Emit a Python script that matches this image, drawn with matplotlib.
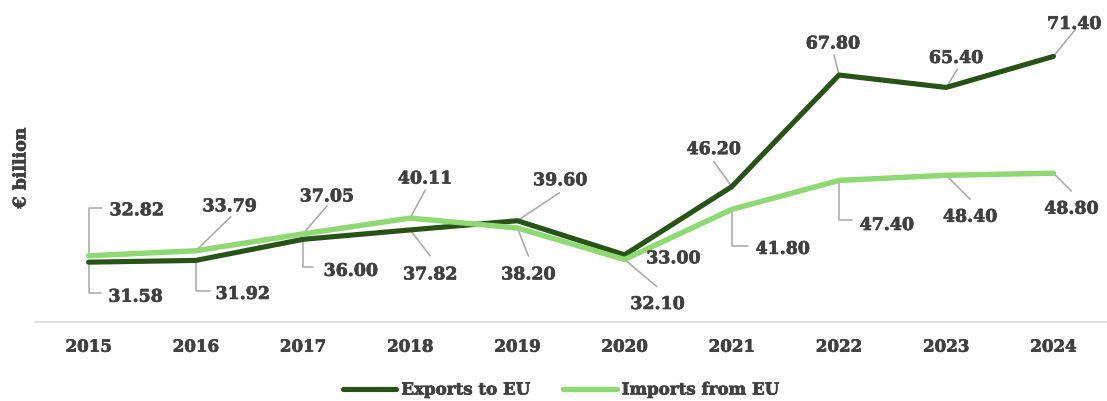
import matplotlib
matplotlib.use("Agg")
import matplotlib.pyplot as plt
import matplotlib.patheffects as pe
from matplotlib.lines import Line2D

# ---- data -----------------------------------------------------------------
years = ["2015", "2016", "2017", "2018", "2019", "2020", "2021", "2022", "2023", "2024"]
exports_to_eu = [31.58, 31.92, 36.00, 37.82, 39.60, 33.00, 46.20, 67.80, 65.40, 71.40]
imports_from_eu = [32.82, 33.79, 37.05, 40.11, 38.20, 32.10, 41.80, 47.40, 48.40, 48.80]

# ---- label layout: (text dx, text dy, leader dx, leader dy, style) in pixels
# style: "elbow" = vertical then horizontal leader, "line" = straight, None = no leader
export_labels = [
    (47, -33, 12, -31, "elbow"),
    (47, -32, 14, -31, "elbow"),
    (48, -30, 10, -28, "elbow"),
    (20, -43, 20, -26, "line"),
    (43, 42, 42, 28, "line"),
    (49, -2, 0, 0, None),
    (-18, 39, -18, 25, "line"),
    (-6, 33, -5, 20, "line"),
    (10, 31, 11, 18, "line"),
    (21, 34, 22, 27, "line"),
]
import_labels = [
    (48, 47, 13, 48, "elbow"),
    (34, 46, 35, 34, "line"),
    (24, 39, 24, 28, "line"),
    (15, 41, 15, 28, "line"),
    (11, -45, 11, -28, "line"),
    (33, -43, 32, -27, "line"),
    (51, -38, 16, -37, "elbow"),
    (48, -43, 13, -40, "elbow"),
    (24, -40, 24, -24, "line"),
    (18, -34, 18, -18, "line"),
]

DARK = "#275317"
LIGHT = "#8ED973"
TEXT = "#404040"
LEADER = "#A6A6A6"
SERIF = ["DejaVu Serif"]
# a hairline outline in the text colour gives the heavier look of the labels
HEAVY = [pe.withStroke(linewidth=0.5, foreground=TEXT)]

W, H, DPI = 1107, 401, 100
fig = plt.figure(figsize=(W / DPI, H / DPI), dpi=DPI)
ax = fig.add_axes([35 / W, 1 - 322 / H, 1 - 35 / W, (322 - 12) / H])

x = list(range(len(years)))
ax.plot(x, exports_to_eu, color=DARK, lw=3.7, solid_capstyle="round",
        solid_joinstyle="round", label="Exports to EU", zorder=3)
ax.plot(x, imports_from_eu, color=LIGHT, lw=3.9, solid_capstyle="round",
        solid_joinstyle="round", label="Imports from EU", zorder=3)

ax.set_xlim(-0.5, 9.5)
ax.set_ylim(20, 80)
ax.set_yticks([])
ax.set_xticks(x)
ax.set_xticklabels(years, family=SERIF, fontweight="bold", fontsize=12, color=TEXT)
for t in ax.get_xticklabels():
    t.set_path_effects(HEAVY)
ax.tick_params(axis="x", length=0, pad=12)
for side in ("top", "left", "right"):
    ax.spines[side].set_visible(False)
ax.spines["bottom"].set_color("#D9D9D9")
ax.spines["bottom"].set_linewidth(1.2)


def draw_labels(values, layout):
    for i, (v, (tdx, tdy, ldx, ldy, style)) in enumerate(zip(values, layout)):
        if style is not None:
            cs = "angle,angleA=0,angleB=90,rad=0" if style == "elbow" else "arc3"
            ax.annotate("", xy=(i, v), xytext=(ldx, ldy), textcoords="offset pixels",
                        arrowprops=dict(arrowstyle="-", color=LEADER, lw=1.1,
                                        shrinkA=0, shrinkB=0, connectionstyle=cs),
                        zorder=2)
        ax.annotate(f"{v:.2f}", xy=(i, v), xytext=(tdx, tdy), textcoords="offset pixels",
                    ha="center", va="center_baseline", family=SERIF, fontweight="bold",
                    fontsize=12.5, color=TEXT, zorder=4, path_effects=HEAVY)


draw_labels(exports_to_eu, export_labels)
draw_labels(imports_from_eu, import_labels)

fig.text(21 / W, 1 - 168 / H, "€ billion", rotation=90, ha="center", va="center",
         family=SERIF, fontweight="bold", fontsize=12.5, color=TEXT, path_effects=HEAVY)

handles = [Line2D([], [], color=DARK, lw=3.7, solid_capstyle="round"),
           Line2D([], [], color=LIGHT, lw=3.9, solid_capstyle="round")]
leg = fig.legend(handles, ["Exports to EU", "Imports from EU"], loc="center",
                 bbox_to_anchor=(561 / W, 1 - 390 / H), ncol=2, frameon=False,
                 handlelength=3.2, handletextpad=0.3, columnspacing=2.0,
                 prop=dict(family=SERIF, weight="bold", size=12))
for t in leg.get_texts():
    t.set_color(TEXT)
    t.set_path_effects(HEAVY)

fig.savefig("out.png", dpi=DPI, facecolor="white")
